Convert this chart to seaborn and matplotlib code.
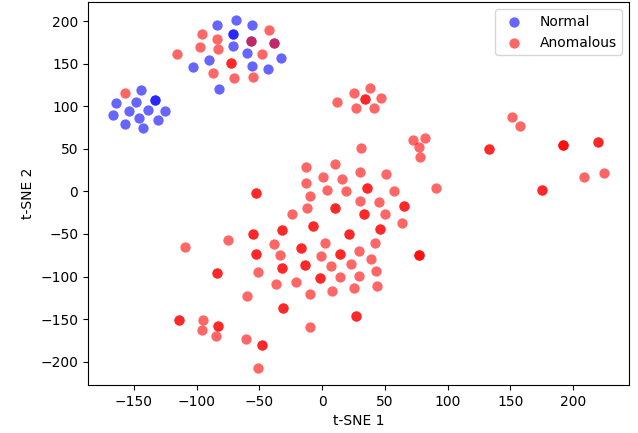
import matplotlib
matplotlib.use("Agg")
import matplotlib.pyplot as plt
import numpy as np
import pandas as pd
import seaborn as sns

# t-SNE embedding (repeated entries = overlapping points)
normal_x = [-84, -69, -56, -71, -60, -33, -90, -103, -56, -43, -82, -71, -71, -57, -38,
            -144, -133, -133, -164, -148, -154, -139, -125, -167, -146, -131, -157, -143]
normal_y = [196, 202, 196, 171, 163, 157, 155, 146, 148, 144, 120, 185, 185, 177, 174,
            119, 108, 108, 104, 105, 95, 96, 95, 90, 86, 84, 79, 74]

anom_upper_x = [-96, -84, -42, -97, -83, -116, -48, -87, -70, -55, -73, -73, -57, -38, -157]
anom_upper_y = [185, 179, 190, 170, 167, 161, 161, 139, 133, 134, 151, 151, 177, 174, 116]

anom_right_x = [12, 25, 38, 34, 34, 47, 27, 41, 151, 158, 72, 82, 77, 78, 31,
                133, 133, 192, 192, 192, 220, 220, 209, 225, 175, 175, 91]
anom_right_y = [105, 116, 122, 109, 109, 110, 98, 98, 88, 77, 61, 63, 52, 40, 51,
                50, 50, 54, 54, 54, 58, 58, 17, 22, 2, 2, 4]

anom_main_x = [-13, 10, 1, 16, 30, 51, -13, 4, 19, 36, 36, 57, -53, -53, -10, 30, 45,
               65, 65, -12, 10, 10, 33, 33, 50, -24, 64, -7, -7, -32, -32, 21, 21,
               46, 46, -55, -55, -75, -109, 2, 42, -17, -17, -38, -53, -53, -34, -1,
               14, 14, 29, 39, 77, 77, 77, -32, -32, -14, -14, 7, 23, 43, -51, -84,
               -84, -37, -21, -2, -2, 14, 29, 44, -10, 8, 25, -60, -31, -31, -114,
               -114, -95, -96, -83, -83, -85, -61, -48, -48, -10, 27, 27, -51]
anom_main_y = [29, 32, 17, 15, 23, 21, 10, 2, 1, 4, 4, 1, -2, -2, -5, -11, -12,
               -17, -17, -19, -19, -19, -27, -27, -27, -26, -37, -41, -41, -45, -45, -50, -50,
               -44, -44, -50, -50, -57, -65, -61, -61, -66, -66, -62, -74, -74, -75, -76,
               -73, -73, -70, -80, -75, -75, -75, -90, -90, -87, -87, -88, -85, -94, -95, -96,
               -96, -109, -107, -102, -102, -101, -99, -111, -120, -117, -113, -123, -137, -137, -151,
               -151, -151, -163, -158, -158, -170, -173, -180, -180, -159, -147, -147, -207]

anom_x = anom_upper_x + anom_right_x + anom_main_x
anom_y = anom_upper_y + anom_right_y + anom_main_y

normal_df = pd.DataFrame({"x": normal_x, "y": normal_y})
anom_df = pd.DataFrame({"x": anom_x, "y": anom_y})

fig, ax = plt.subplots(figsize=(6.38, 4.33), dpi=100)
fig.subplots_adjust(left=0.138, right=0.986, top=0.995, bottom=0.111)

sns.scatterplot(data=normal_df, x="x", y="y", color="blue", alpha=0.6, s=55,
                linewidth=0, label="Normal", ax=ax)
sns.scatterplot(data=anom_df, x="x", y="y", color="red", alpha=0.6, s=55,
                linewidth=0, label="Anomalous", ax=ax)

ax.set_xlabel("t-SNE 1")
ax.set_ylabel("t-SNE 2")
ax.legend(loc="upper right")

fig.savefig("out.png", dpi=100)
